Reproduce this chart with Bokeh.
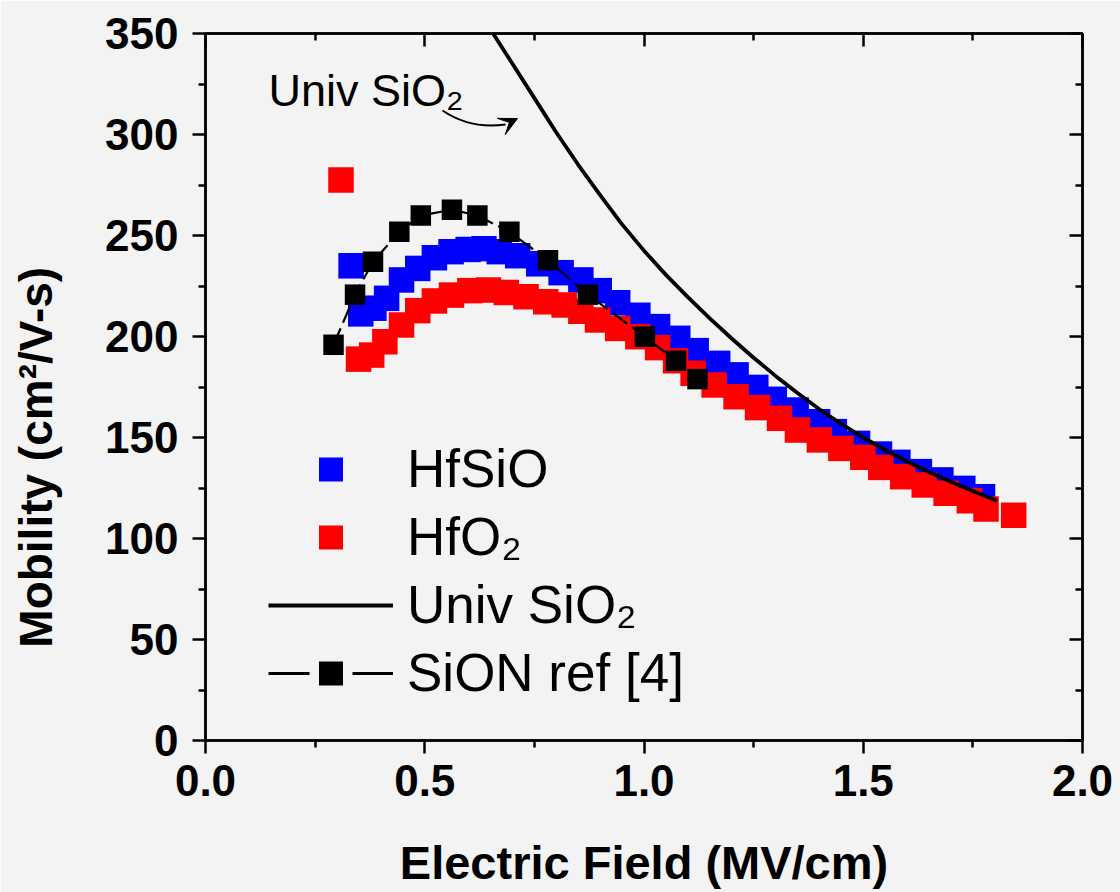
import numpy as np
from bokeh.plotting import figure
from bokeh.models import (Range1d, LinearAxis, FixedTicker, Legend, LegendItem,
                          Arrow, VeeHead, Label, CustomJSTickFormatter)
from bokeh.embed import file_html
from bokeh.resources import INLINE

# ---------------- data ----------------
hfsio_field = [0.332, 0.354, 0.384, 0.413, 0.447, 0.484, 0.522, 0.560, 0.599, 0.635,
               0.670, 0.712, 0.760, 0.811, 0.856, 0.898, 0.940, 0.986, 1.031, 1.077,
               1.119, 1.168, 1.210, 1.255, 1.297, 1.347, 1.396, 1.434, 1.487, 1.537,
               1.579, 1.628, 1.677, 1.727, 1.772]
hfsio_mob = [235.0, 211.2, 214.0, 218.9, 228.0, 233.7, 239.0, 242.0, 243.1, 243.5,
             242.0, 240.0, 236.0, 231.6, 228.0, 222.7, 216.7, 210.5, 204.9, 199.1,
             193.0, 186.7, 181.0, 174.8, 168.9, 163.6, 157.8, 152.9, 147.1, 141.8,
             137.7, 133.1, 129.0, 124.8, 120.7]

hfo2_field = [0.309, 0.349, 0.379, 0.409, 0.447, 0.484, 0.522, 0.561, 0.603, 0.645,
              0.686, 0.731, 0.776, 0.818, 0.856, 0.894, 0.940, 0.986, 1.031, 1.072,
              1.112, 1.160, 1.210, 1.259, 1.309, 1.350, 1.400, 1.449, 1.499, 1.540,
              1.590, 1.639, 1.689, 1.742, 1.780, 1.843]
hfo2_mob = [277.5, 188.8, 190.8, 197.4, 205.7, 212.8, 217.6, 220.5, 222.7, 223.0,
            221.8, 219.7, 217.2, 215.6, 212.5, 208.2, 204.0, 199.9, 194.5, 188.0,
            181.8, 176.0, 170.2, 164.8, 159.5, 153.7, 148.8, 144.6, 140.2, 135.2,
            130.6, 126.5, 122.4, 118.7, 114.6, 111.5]

univ_field = [0.650, 0.700, 0.750, 0.800, 0.850, 0.900, 0.950, 1.000, 1.050, 1.100,
              1.150, 1.200, 1.250, 1.300, 1.350, 1.400, 1.450, 1.500, 1.550, 1.600,
              1.650, 1.700, 1.750, 1.805]
univ_mob = [352.0, 335.0, 318.0, 301.0, 285.0, 270.0, 255.5, 242.5, 230.5, 219.5,
            209.0, 199.0, 189.5, 180.5, 172.0, 164.0, 156.7, 150.0, 143.8, 138.1,
            132.9, 128.1, 123.5, 118.7]

sion_field = [0.292, 0.341, 0.382, 0.442, 0.491, 0.562, 0.620, 0.693, 0.781, 0.872,
              1.002, 1.073, 1.122]
sion_mob = [195.9, 220.7, 237.0, 251.8, 259.9, 262.8, 259.9, 251.8, 237.8, 220.7,
            199.9, 188.0, 178.9]

x_ticks = [0.0, 0.5, 1.0, 1.5, 2.0]
x_tick_labels = ["0.0", "0.5", "1.0", "1.5", "2.0"]
x_minor_ticks = [0.25, 0.75, 1.25, 1.75]
y_ticks = [0, 50, 100, 150, 200, 250, 300, 350]
y_tick_labels = ["0", "50", "100", "150", "200", "250", "300", "350"]
y_minor_ticks = [25, 75, 125, 175, 225, 275, 325]

series_labels = ["HfSiO", "HfO\u2082", "Univ SiO\u2082", "SiON ref [4]"]
x_title = "Electric Field (MV/cm)"
y_title = "Mobility (cm\u00b2/V-s)"
note_text = "Univ SiO\u2082"

# ---------------- styling ----------------
FONT = "Liberation Sans"
BG = "#f3f3f3"
BLUE = "#0000ff"
RED = "#ff0000"

p = figure(width=1120, height=892,
           x_range=Range1d(0, 2), y_range=Range1d(0, 350),
           output_backend="svg", toolbar_location=None,
           min_border_left=205, min_border_right=38,
           min_border_top=33, min_border_bottom=152)
p.background_fill_color = BG
p.border_fill_color = BG
p.grid.visible = False
p.outline_line_color = "black"
p.outline_line_width = 2.5


def style_axis(ax, ticks, minor, labels, outward, show_labels):
    ax.ticker = FixedTicker(ticks=ticks, minor_ticks=minor)
    ax.axis_line_width = 2.5
    ax.axis_line_color = "black"
    ax.major_tick_line_width = 2.5
    ax.minor_tick_line_width = 2.5
    ax.major_tick_line_color = "black"
    ax.minor_tick_line_color = "black"
    if outward:
        ax.major_tick_out, ax.major_tick_in = 13, 0
        ax.minor_tick_out, ax.minor_tick_in = 7, 0
    else:
        ax.major_tick_out, ax.major_tick_in = 0, 13
        ax.minor_tick_out, ax.minor_tick_in = 0, 7
    if show_labels:
        ax.major_label_overrides = {t: l for t, l in zip(ticks, labels)}
        ax.major_label_text_font = FONT
        ax.major_label_text_font_style = "bold"
        ax.major_label_text_font_size = "44px"
        ax.major_label_text_color = "black"
    else:
        ax.formatter = CustomJSTickFormatter(code="return ''")
        ax.major_label_standoff = 0
        ax.major_label_text_font_size = "1px"


xa = p.xaxis[0]
ya = p.yaxis[0]
style_axis(xa, x_ticks, x_minor_ticks, x_tick_labels, True, True)
style_axis(ya, y_ticks, y_minor_ticks, y_tick_labels, True, True)
xa.major_label_standoff = 11
ya.major_label_standoff = 14

xa.axis_label = x_title
ya.axis_label = y_title + "\u00a0" * 11
for ax in (xa, ya):
    ax.axis_label_text_font = FONT
    ax.axis_label_text_font_style = "bold"
    ax.axis_label_text_color = "black"
xa.axis_label_text_font_size = "47px"
ya.axis_label_text_font_size = "46px"
xa.axis_label_standoff = 37
ya.axis_label_standoff = 40

top_ax = LinearAxis()
right_ax = LinearAxis()
style_axis(top_ax, x_ticks, x_minor_ticks, x_tick_labels, False, False)
style_axis(right_ax, y_ticks, y_minor_ticks, y_tick_labels, False, False)
p.add_layout(top_ax, "above")
p.add_layout(right_ax, "right")

# ---------------- data glyphs ----------------
r_blue = p.scatter(hfsio_field, hfsio_mob, marker="square", size=25.5,
                   fill_color=BLUE, line_color=None)
r_red = p.scatter(hfo2_field, hfo2_mob, marker="square", size=25.5,
                  fill_color=RED, line_color=None)
r_univ = p.line(univ_field, univ_mob, line_color="black", line_width=3.8)
r_sion_line = p.line(sion_field, sion_mob, line_color="black", line_width=2.2,
                     line_dash="18 6")
r_sion_pts = p.scatter(sion_field, sion_mob, marker="square", size=20.5,
                       fill_color="black", line_color=None)

# legend-only proxy line (no visible data) with a gap around the symbol
r_sion_leg = p.line(x=np.array([np.nan, np.nan]), y=np.array([np.nan, np.nan]),
                    line_color="black", line_width=3, line_dash="41 43")

# ---------------- annotation ----------------
p.add_layout(Label(x=0.1437, y=321.8, text=note_text, text_font=FONT,
                   text_font_size="45px", text_color="black",
                   text_baseline="alphabetic", text_align="left"))
p.quadratic(x0=[0.5405], y0=[311.9], x1=[0.6842], y1=[305.0],
            cx=[0.6043], cy=[302.5], line_color="black", line_width=2)
p.add_layout(Arrow(end=VeeHead(size=18, fill_color="black", line_color="black"),
                   x_start=0.6842, y_start=305.0, x_end=0.7115, y_end=307.9,
                   line_alpha=0))

# ---------------- legend ----------------
legend = Legend(items=[
    LegendItem(label=series_labels[0], renderers=[r_blue]),
    LegendItem(label=series_labels[1], renderers=[r_red]),
    LegendItem(label=series_labels[2], renderers=[r_univ]),
    LegendItem(label=series_labels[3], renderers=[r_sion_leg, r_sion_pts]),
], location=(63, 37))
legend.label_text_font = FONT
legend.label_text_font_size = "53px"
legend.label_text_color = "black"
legend.glyph_width = 125
legend.glyph_height = 60
legend.label_height = 60
legend.spacing = 7
legend.padding = 0
legend.margin = 0
legend.label_standoff = 14
legend.border_line_color = None
legend.background_fill_alpha = 0
p.add_layout(legend)

open("out.html", "w").write(file_html(p, INLINE))
